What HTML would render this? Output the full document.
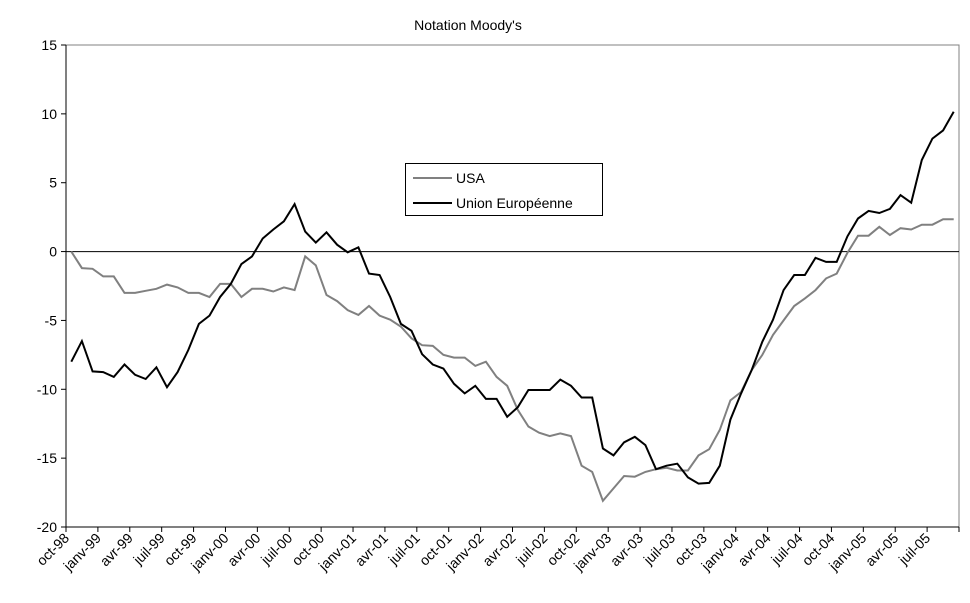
<!DOCTYPE html>
<html><head><meta charset="utf-8"><style>
body{margin:0;background:#fff;}
svg{display:block;font-family:"Liberation Sans",Arial,sans-serif;}
</style></head><body>
<svg id="chart" width="970" height="603" viewBox="0 0 970 603">
<text x="468" y="30" font-size="14" text-anchor="middle">Notation Moody's</text>
<rect x="66" y="45" width="893" height="482" fill="none" stroke="#808080" stroke-width="1"/>
<g id="axes"></g>
<g id="series"></g>
<g>
<rect x="405.5" y="163.5" width="197" height="52" fill="#fff" stroke="#000" stroke-width="1"/>
<line x1="413" y1="178" x2="452" y2="178" stroke="#808080" stroke-width="2"/>
<text x="456" y="183" font-size="14">USA</text>
<line x1="413" y1="203" x2="452" y2="203" stroke="#000" stroke-width="2"/>
<text x="456" y="208" font-size="14">Union Européenne</text>
</g>
</svg>
<script>
const yTicks=[15,10,5,0,-5,-10,-15,-20];
const xLabels=["oct-98","janv-99","avr-99","juil-99","oct-99","janv-00","avr-00","juil-00","oct-00","janv-01","avr-01","juil-01","oct-01","janv-02","avr-02","juil-02","oct-02","janv-03","avr-03","juil-03","oct-03","janv-04","avr-04","juil-04","oct-04","janv-05","avr-05","juil-05"];
const usa=[0,-1.2,-1.25,-1.8,-1.8,-3.0,-3.0,-2.85,-2.7,-2.4,-2.6,-3.0,-3.0,-3.3,-2.35,-2.35,-3.3,-2.7,-2.7,-2.9,-2.6,-2.8,-0.35,-1.0,-3.15,-3.6,-4.25,-4.6,-3.95,-4.65,-4.95,-5.45,-6.3,-6.8,-6.85,-7.5,-7.7,-7.7,-8.3,-8.0,-9.1,-9.75,-11.5,-12.7,-13.15,-13.4,-13.2,-13.4,-15.55,-16.0,-18.1,-17.2,-16.3,-16.35,-16.0,-15.8,-15.7,-15.9,-15.9,-14.8,-14.35,-12.95,-10.8,-10.2,-8.6,-7.5,-6.05,-5.0,-3.95,-3.4,-2.8,-1.95,-1.6,-0.1,1.15,1.15,1.8,1.2,1.7,1.6,1.95,1.95,2.35,2.35];
const eu=[-8.0,-6.5,-8.7,-8.75,-9.1,-8.2,-8.95,-9.25,-8.4,-9.85,-8.75,-7.15,-5.25,-4.65,-3.3,-2.35,-0.9,-0.35,0.95,1.6,2.2,3.45,1.45,0.65,1.4,0.5,-0.05,0.3,-1.6,-1.7,-3.3,-5.25,-5.75,-7.45,-8.2,-8.5,-9.6,-10.3,-9.75,-10.7,-10.7,-12.0,-11.3,-10.05,-10.05,-10.05,-9.3,-9.75,-10.6,-10.6,-14.3,-14.8,-13.85,-13.45,-14.05,-15.8,-15.55,-15.4,-16.4,-16.85,-16.8,-15.55,-12.2,-10.3,-8.6,-6.55,-4.95,-2.8,-1.7,-1.7,-0.45,-0.75,-0.75,1.1,2.4,2.95,2.8,3.1,4.1,3.55,6.65,8.2,8.8,10.15];

const NS="http://www.w3.org/2000/svg";
const L=66,R=959,T=45,B=527,yMin=-20,yMax=15,nCat=84;
const cw=(R-L)/nCat;
function y(v){return B-(v-yMin)/(yMax-yMin)*(B-T);}
function x(i){return L+cw*(i+0.5);}
function mk(tag,attrs,parent){const e=document.createElementNS(NS,tag);for(const k in attrs)e.setAttribute(k,attrs[k]);parent.appendChild(e);return e;}
const axes=document.getElementById('axes');
const ser=document.getElementById('series');

const ya=mk('line',{x1:L,y1:T,x2:L,y2:B,stroke:'#000','stroke-width':1},axes);


yTicks.forEach(v=>{
  const t=mk('line',{x1:L-5,y1:y(v),x2:L,y2:y(v),stroke:'#000'},axes);
  
  
  const lb=mk('text',{x:L-9,y:y(v)+5,'font-size':14,'text-anchor':'end'},axes);
  lb.textContent=v;
  
  
});
const zl=mk('line',{x1:L,y1:y(0),x2:R,y2:y(0),stroke:'#000','stroke-width':1},axes);


const xa=mk('line',{x1:L,y1:B,x2:R,y2:B,stroke:'#000','stroke-width':1},axes);


for(let i=0;i<=nCat;i+=3){
  const tx=L+cw*i;
  const t=mk('line',{x1:tx,y1:B,x2:tx,y2:B+5,stroke:'#000'},axes);
  
  
}
xLabels.forEach((s,k)=>{
  const tx=L+cw*3*k+4;
  const lb=mk('text',{x:tx,y:B+12,'font-size':14,'text-anchor':'end',transform:`rotate(-45 ${tx} ${B+12})`},axes);
  lb.textContent=s;
  
  
});
function line(data,color,name){
  const p=mk('polyline',{points:data.map((v,i)=>x(i).toFixed(1)+','+y(v).toFixed(1)).join(' '),fill:'none',stroke:color,'stroke-width':2,'stroke-linejoin':'miter'},ser);
  
  
}
line(usa,'#808080','usa-line');
line(eu,'#000','eu-line');
</script>
</body></html>
